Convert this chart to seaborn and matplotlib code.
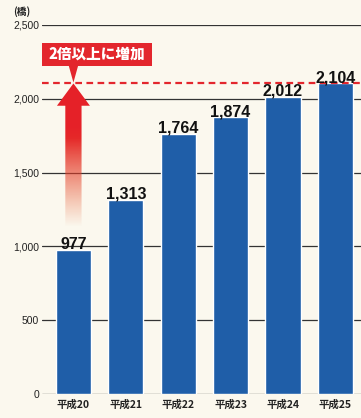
import matplotlib
matplotlib.use("Agg")
import matplotlib.pyplot as plt
import seaborn as sns
import numpy as np
import pandas as pd
from matplotlib.patches import Polygon, FancyBboxPatch

categories = ["平成20", "平成21", "平成22", "平成23", "平成24", "平成25"]
values = [977, 1313, 1764, 1874, 2012, 2104]
yticks = [0, 500, 1000, 1500, 2000, 2500]
ytick_labels = ["0", "500", "1,000", "1,500", "2,000", "2,500"]
annotation = "2倍以上に増加"
unit_label = "(橋)"

sns.set_theme(style="white")
plt.rcParams['font.family'] = ['Noto Sans CJK JP', 'DejaVu Sans']

bg = "#fbf8ee"
bar_color = "#1f5ea8"
red = "#e3262d"

fig = plt.figure(figsize=(3.61, 4.18), dpi=100, facecolor=bg)
ax = fig.add_axes([42/361, 1-394/418, 1-42/361, (394-25)/418])
ax.set_facecolor(bg)

df = pd.DataFrame({"year": categories, "count": values})
sns.barplot(data=df, x="year", y="count", color=bar_color, saturation=1,
            width=0.67, ax=ax, zorder=3)

ax.set_xlim(-0.60, 5.49)
ax.set_ylim(0, 2500)
for s in ax.spines.values():
    s.set_visible(False)
ax.set_yticks(yticks)
ax.set_yticklabels(ytick_labels, fontsize=7.5, color="#222222",
                   family=["Liberation Sans"])
ax.yaxis.grid(True, color="#333333", linewidth=0.9, zorder=1)
ax.xaxis.grid(False)
ax.tick_params(axis="y", length=0, pad=2)
ax.tick_params(axis="x", length=0, pad=4)
ax.set_xticks(range(len(categories)))
ax.set_xticklabels(categories, fontsize=7.5, fontweight="bold", color="#222222")
ax.set_xlabel("")
ax.set_ylabel("")

# value labels
for i, v in enumerate(values):
    ax.text(i, v - 12, f"{v:,}", ha="center", va="bottom", fontsize=11.5,
            fontweight="bold", color="#111111", zorder=6,
            family=["Liberation Sans"])

# dashed red line at max
ax.axhline(values[-1], color=red, linestyle=(0, (3, 2)), linewidth=1.6, zorder=5)

# gradient arrow from first bar up to max line
x0 = 0
sw = 0.155
hw = 0.315
tip = values[-1]
head_base = 1953
shaft_bottom = 1108
arrow = Polygon([[x0 - sw, shaft_bottom], [x0 - sw, head_base], [x0 - hw, head_base],
                 [x0, tip], [x0 + hw, head_base], [x0 + sw, head_base],
                 [x0 + sw, shaft_bottom]], closed=True, facecolor="none",
                edgecolor="none", transform=ax.transData)
ax.add_patch(arrow)
n = 256
t = np.linspace(0, 1, n)  # bottom to top
alpha = np.clip((t - 0.02) / 0.6, 0, 1)
rgba = np.zeros((n, 1, 4))
rgba[:, 0, 0] = 0.90
rgba[:, 0, 1] = 0.13 + np.clip(1 - t / 0.7, 0, 1) * 0.25
rgba[:, 0, 2] = 0.16
rgba[:, 0, 3] = alpha
im = ax.imshow(rgba, extent=[x0 - hw, x0 + hw, shaft_bottom, tip], origin="lower",
               aspect="auto", zorder=4, interpolation="bilinear")
im.set_clip_path(arrow)
ax.set_xlim(-0.60, 5.49)
ax.set_ylim(0, 2500)

# label box
box = FancyBboxPatch((-0.60, 2223), 2.10, 155, boxstyle="square,pad=0",
                     facecolor=red, edgecolor="none", zorder=6, clip_on=False)
ax.add_patch(box)
ax.add_patch(Polygon([[-0.09, 2225], [0.09, 2225], [0, 2110]], closed=True,
                     facecolor=red, edgecolor="none", zorder=6))
ax.text(0.45, 2300, annotation, ha="center", va="center", fontsize=10.5,
        fontweight="heavy", color="white", zorder=7)

fig.text(22/361, 1-12/418, unit_label, ha="center", va="center", fontsize=7,
         fontweight="bold", color="#222222")

fig.savefig("out.png", dpi=100, facecolor=bg)
